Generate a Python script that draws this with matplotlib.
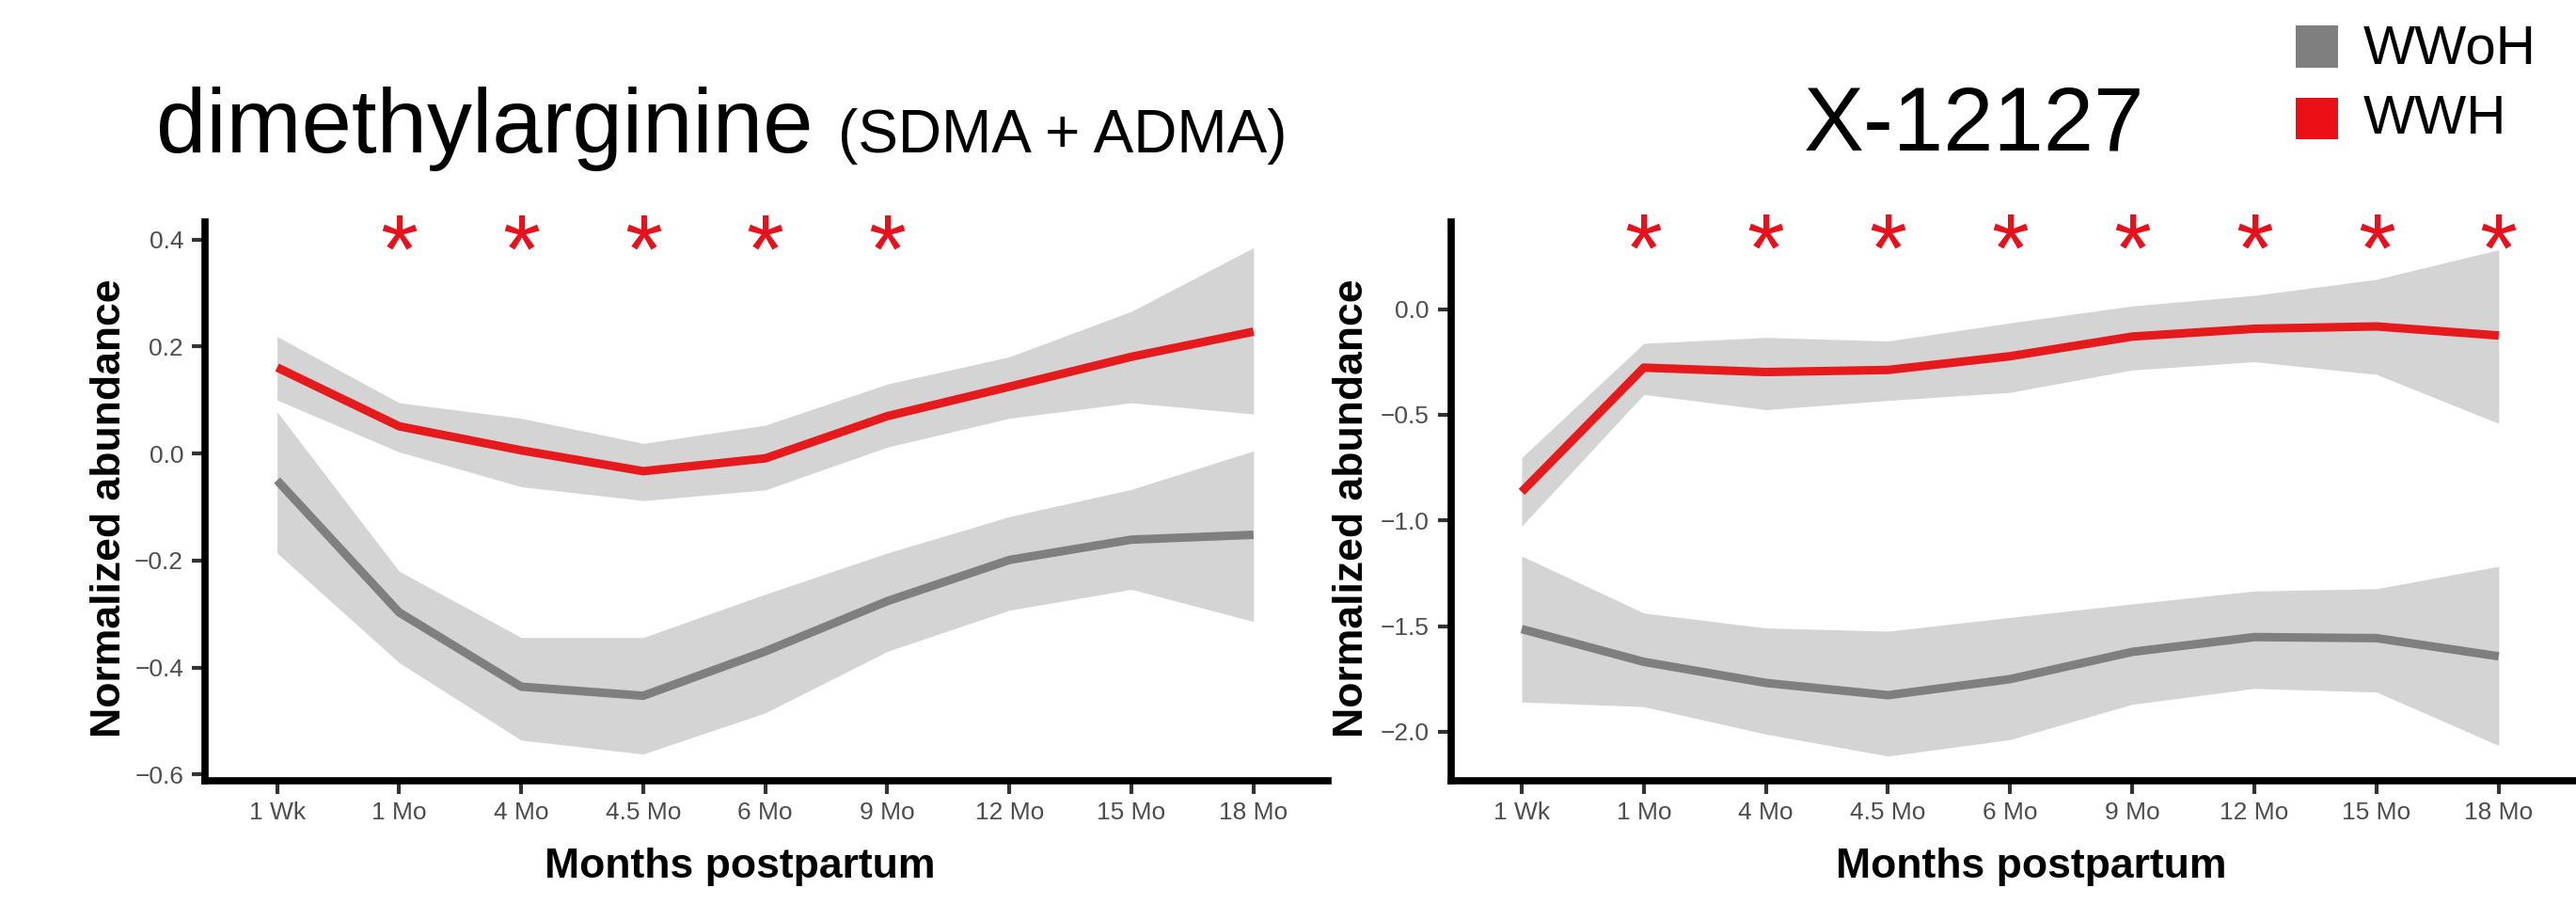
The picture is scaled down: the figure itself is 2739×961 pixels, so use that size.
import matplotlib
matplotlib.use("Agg")
import matplotlib.pyplot as plt
from matplotlib.patches import Rectangle
from matplotlib.transforms import offset_copy

plt.rcParams["font.family"] = ["Liberation Sans", "DejaVu Sans"]

timepoints = ["1 Wk", "1 Mo", "4 Mo", "4.5 Mo", "6 Mo", "9 Mo", "12 Mo", "15 Mo", "18 Mo"]

# dimethylarginine
dma_wwh = [0.161, 0.051, 0.006, -0.033, -0.009, 0.070, 0.125, 0.181, 0.228]
dma_wwh_hi = [0.219, 0.095, 0.066, 0.019, 0.053, 0.130, 0.181, 0.266, 0.385]
dma_wwh_lo = [0.100, 0.003, -0.062, -0.088, -0.068, 0.012, 0.066, 0.095, 0.074]
dma_wwoh = [-0.050, -0.297, -0.436, -0.453, -0.370, -0.276, -0.199, -0.161, -0.152]
dma_wwoh_hi = [0.078, -0.220, -0.344, -0.344, -0.263, -0.186, -0.118, -0.067, 0.005]
dma_wwoh_lo = [-0.186, -0.391, -0.536, -0.562, -0.485, -0.370, -0.293, -0.254, -0.314]
dma_stars = [1, 2, 3, 4, 5]

# X-12127
x12_wwh = [-0.865, -0.277, -0.298, -0.288, -0.223, -0.130, -0.093, -0.082, -0.125]
x12_wwh_hi = [-0.703, -0.162, -0.134, -0.151, -0.065, 0.015, 0.065, 0.141, 0.281]
x12_wwh_lo = [-1.027, -0.404, -0.476, -0.432, -0.394, -0.288, -0.249, -0.309, -0.541]
x12_wwoh = [-1.514, -1.669, -1.769, -1.827, -1.751, -1.622, -1.552, -1.557, -1.643]
x12_wwoh_hi = [-1.168, -1.438, -1.509, -1.524, -1.459, -1.395, -1.334, -1.323, -1.217]
x12_wwoh_lo = [-1.859, -1.881, -2.011, -2.115, -2.037, -1.870, -1.795, -1.812, -2.065]
x12_stars = [1, 2, 3, 4, 5, 6, 7, 8]

RED = "#E41A1C"
GRAY = "#7F7F7F"
RIBBON = "#D4D4D4"

fig = plt.figure(figsize=(27.39, 9.61), dpi=100)
ax1 = fig.add_axes([0.0796, 0.1363, 0.4359, 0.6181])
ax2 = fig.add_axes([0.5632, 0.1363, 0.4357, 0.6181])

x = list(range(len(timepoints)))


def panel(ax, wwoh, wwoh_lo, wwoh_hi, wwh, wwh_lo, wwh_hi, stars, star_y, yticks, ylim, xlim):
    ax.fill_between(x, wwoh_lo, wwoh_hi, color=RIBBON, lw=0, zorder=1)
    ax.fill_between(x, wwh_lo, wwh_hi, color=RIBBON, lw=0, zorder=1)
    ax.plot(x, wwoh, color=GRAY, lw=6.5, zorder=3, solid_capstyle="butt")
    ax.plot(x, wwh, color=RED, lw=6.5, zorder=3, solid_capstyle="butt")
    tr = offset_copy(ax.transData, fig=fig, y=-33, units="points")
    for s in stars:
        ax.text(s, star_y, "*", color="#E8101A", fontsize=74, ha="center",
                va="baseline", transform=tr, zorder=4)
    ax.set_xlim(*xlim)
    ax.set_ylim(*ylim)
    ax.set_xticks(x)
    ax.set_xticklabels(timepoints)
    ax.set_yticks(yticks)
    for sp in ["top", "right"]:
        ax.spines[sp].set_visible(False)
    for sp in ["left", "bottom"]:
        ax.spines[sp].set_linewidth(5.5)
        ax.spines[sp].set_color("black")
    ax.tick_params(axis="both", length=10, width=3, color="#333333",
                   labelsize=19, labelcolor="#4D4D4D")
    ax.tick_params(axis="y", pad=6.5)
    ax.tick_params(axis="x", pad=6)


panel(ax1, dma_wwoh, dma_wwoh_lo, dma_wwoh_hi, dma_wwh, dma_wwh_lo, dma_wwh_hi,
      dma_stars, 0.40, [0.4, 0.2, 0.0, -0.2, -0.4, -0.6], (-0.612, 0.433), (-0.59, 8.61))
ax1.set_yticklabels(["0.4", "0.2", "0.0", "\u22120.2", "\u22120.4", "\u22120.6"])

panel(ax2, x12_wwoh, x12_wwoh_lo, x12_wwoh_hi, x12_wwh, x12_wwh_lo, x12_wwh_hi,
      x12_stars, 0.335, [0.0, -0.5, -1.0, -1.5, -2.0], (-2.232, 0.412), (-0.58, 8.61))
ax2.set_yticklabels(["0.0", "\u22120.5", "\u22121.0", "\u22121.5", "\u22122.0"])

# axis titles
fig.text(0.0424, 0.438, "Normalized abundance", rotation=90, fontsize=32,
         fontweight="bold", ha="center", va="center")
fig.text(0.525, 0.438, "Normalized abundance", rotation=90, fontsize=32,
         fontweight="bold", ha="center", va="center")
fig.text(0.2873, 0.0416, "Months postpartum", fontsize=32, fontweight="bold",
         ha="center", va="center")
fig.text(0.7886, 0.0416, "Months postpartum", fontsize=32, fontweight="bold",
         ha="center", va="center")

# panel titles
fig.text(0.0606, 0.8314, "dimethylarginine", fontsize=69, ha="left", va="baseline")
fig.text(0.3253, 0.8314, "(SDMA + ADMA)", fontsize=46, ha="left", va="baseline")
fig.text(0.7003, 0.8345, "X-12127", fontsize=69, ha="left", va="baseline")

# legend
fig.add_artist(Rectangle((2441 / 2739, 1 - 72 / 961), 45 / 2739, 45 / 961,
                         transform=fig.transFigure, color=GRAY, lw=0))
fig.add_artist(Rectangle((2441 / 2739, 1 - 148 / 961), 45 / 2739, 44 / 961,
                         transform=fig.transFigure, color="#EC1016", lw=0))
fig.text(2513 / 2739, 1 - 67 / 961, "WWoH", fontsize=42, ha="left", va="baseline")
fig.text(2513 / 2739, 1 - 142 / 961, "WWH", fontsize=42, ha="left", va="baseline")

fig.savefig("out.png", dpi=100)
